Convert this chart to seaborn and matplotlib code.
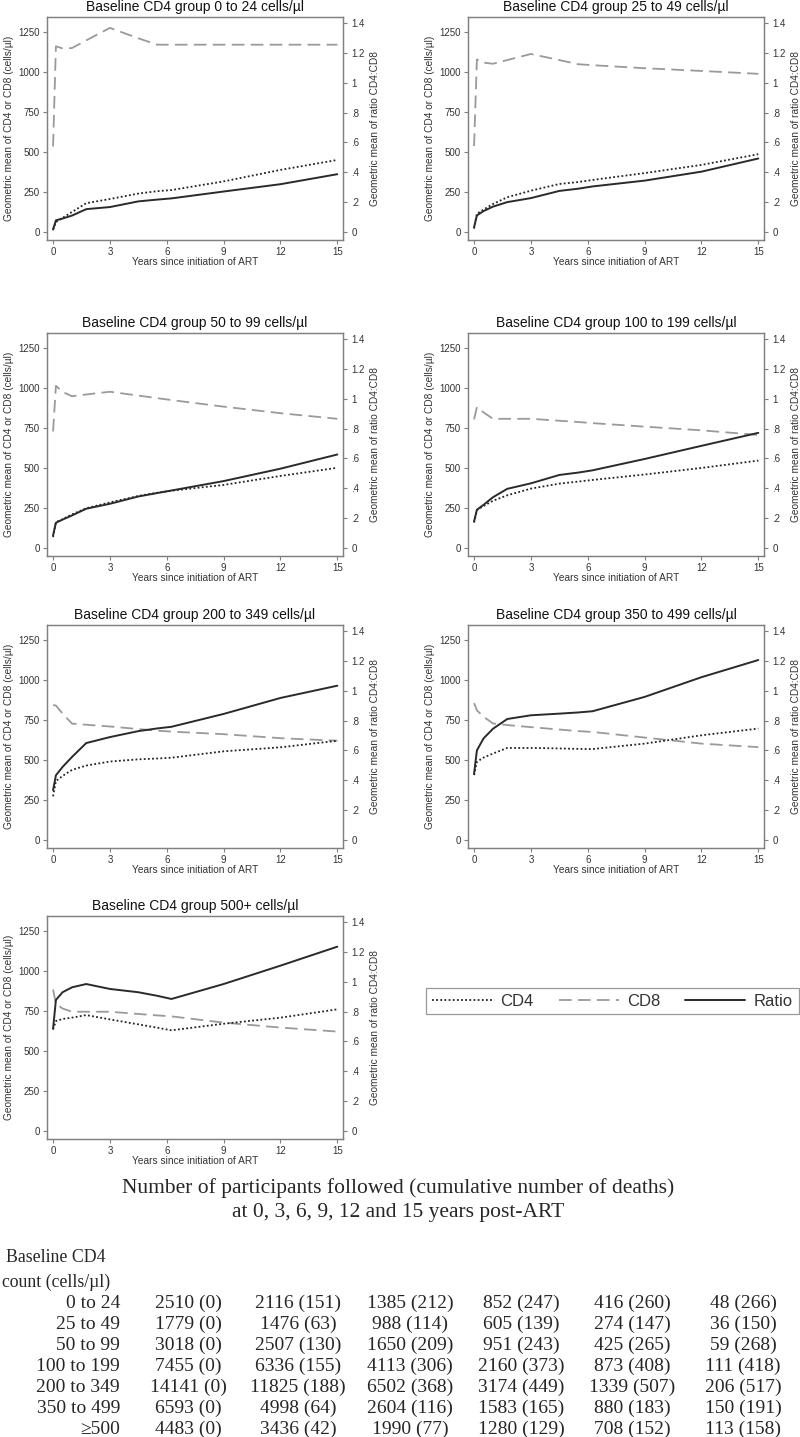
import matplotlib
matplotlib.use('Agg')
import matplotlib.pyplot as plt
from matplotlib.lines import Line2D
import seaborn as sns

# time points (years since ART start) shared by all curves
years = [0, 0.15, 0.5, 1, 1.75, 3, 4.5, 5.5, 6.25, 9, 12, 15]

group_titles = ['Baseline CD4 group 0 to 24 cells/µl',
                'Baseline CD4 group 25 to 49 cells/µl',
                'Baseline CD4 group 50 to 99 cells/µl',
                'Baseline CD4 group 100 to 199 cells/µl',
                'Baseline CD4 group 200 to 349 cells/µl',
                'Baseline CD4 group 350 to 499 cells/µl',
                'Baseline CD4 group 500+ cells/µl']

# geometric mean CD4 (cells/µl)
cd4_g1 = [15, 62, 88, 125, 180, 206, 240, 255, 262, 316, 388, 450]
cd4_g2 = [21, 114, 140, 175, 217, 258, 300, 312, 325, 368, 419, 486]
cd4_g3 = [68, 161, 180, 210, 248, 285, 325, 345, 358, 394, 450, 501]
cd4_g4 = [159, 237, 262, 295, 329, 371, 402, 415, 425, 459, 500, 546]
cd4_g5 = [273, 368, 400, 438, 465, 490, 504, 509, 514, 554, 579, 620]
cd4_g6 = [405, 488, 515, 540, 575, 575, 572, 569, 568, 602, 654, 696]
cd4_g7 = [635, 687, 700, 708, 724, 697, 666, 645, 629, 670, 708, 760]

# geometric mean CD8 (cells/µl)
cd8_g1 = [534, 1160, 1147, 1149, 1197, 1275, 1210, 1170, 1170, 1170, 1170, 1170]
cd8_g2 = [537, 1078, 1058, 1051, 1074, 1112, 1074, 1048, 1042, 1023, 1006, 988]
cd8_g3 = [728, 1013, 975, 948, 959, 976, 952, 936, 924, 883, 842, 807]
cd8_g4 = [803, 880, 847, 807, 807, 807, 795, 787, 780, 758, 735, 706]
cd8_g5 = [843, 840, 790, 727, 720, 709, 693, 683, 677, 661, 636, 620]
cd8_g6 = [855, 810, 770, 728, 718, 705, 690, 680, 675, 640, 602, 580]
cd8_g7 = [884, 795, 765, 745, 745, 745, 731, 722, 716, 677, 646, 621]

# geometric mean CD4:CD8 ratio
ratio_g1 = [0.016, 0.078, 0.09, 0.11, 0.153, 0.167, 0.205, 0.217, 0.225, 0.271, 0.320, 0.387]
ratio_g2 = [0.033, 0.111, 0.14, 0.17, 0.200, 0.227, 0.275, 0.290, 0.305, 0.344, 0.404, 0.492]
ratio_g3 = [0.085, 0.169, 0.19, 0.218, 0.263, 0.296, 0.345, 0.368, 0.385, 0.448, 0.531, 0.626]
ratio_g4 = [0.178, 0.256, 0.289, 0.34, 0.396, 0.433, 0.489, 0.505, 0.52, 0.596, 0.684, 0.771]
ratio_g5 = [0.333, 0.433, 0.489, 0.556, 0.649, 0.689, 0.729, 0.747, 0.758, 0.844, 0.951, 1.033]
ratio_g6 = [0.444, 0.60, 0.68, 0.745, 0.81, 0.835, 0.846, 0.854, 0.862, 0.958, 1.09, 1.205]
ratio_g7 = [0.684, 0.877, 0.929, 0.962, 0.984, 0.951, 0.929, 0.905, 0.884, 0.984, 1.107, 1.234]

cd4_all = [cd4_g1, cd4_g2, cd4_g3, cd4_g4, cd4_g5, cd4_g6, cd4_g7]
cd8_all = [cd8_g1, cd8_g2, cd8_g3, cd8_g4, cd8_g5, cd8_g6, cd8_g7]
ratio_all = [ratio_g1, ratio_g2, ratio_g3, ratio_g4, ratio_g5, ratio_g6, ratio_g7]

left_ticks = [0, 250, 500, 750, 1000, 1250]
right_ticks = [0, 0.2, 0.4, 0.6, 0.8, 1.0, 1.2, 1.4]
right_ticklabels = ['0', '.2', '.4', '.6', '.8', '1', '1.2', '1.4']
x_ticks = [0, 3, 6, 9, 12, 15]

# table under the plots
table_title = ['Number of participants followed (cumulative number of deaths)',
               'at 0, 3, 6, 9, 12 and 15 years post-ART']
table_rows = ['0 to 24', '25 to 49', '50 to 99', '100 to 199', '200 to 349', '350 to 499', '≥500']
n_y0 = [2510, 1779, 3018, 7455, 14141, 6593, 4483]
d_y0 = [0, 0, 0, 0, 0, 0, 0]
n_y3 = [2116, 1476, 2507, 6336, 11825, 4998, 3436]
d_y3 = [151, 63, 130, 155, 188, 64, 42]
n_y6 = [1385, 988, 1650, 4113, 6502, 2604, 1990]
d_y6 = [212, 114, 209, 306, 368, 116, 77]
n_y9 = [852, 605, 951, 2160, 3174, 1583, 1280]
d_y9 = [247, 139, 243, 373, 449, 165, 129]
n_y12 = [416, 274, 425, 873, 1339, 880, 708]
d_y12 = [260, 147, 265, 408, 507, 183, 152]
n_y15 = [48, 36, 59, 111, 206, 150, 113]
d_y15 = [266, 150, 268, 418, 517, 191, 158]

sns.set_theme(style='white')
plt.rcParams['font.family'] = ['Liberation Sans', 'DejaVu Sans']

W, H = 800, 1437
fig = plt.figure(figsize=(W / 100, H / 100), dpi=100)

frame_col = '#808080'
txt_col = '#333333'
cd4_style = dict(color='#222222', linestyle=(0, (1, 1.3)), linewidth=1.3)
cd8_style = dict(color='#9a9a9a', linestyle=(0, (7, 3.5)), linewidth=1.3)
ratio_style = dict(color='#2a2a2a', linestyle='-', linewidth=1.4)

col_left = [47, 468]
zero_rows = [232, 548, 840, 1131]
box_w, box_h = 296, 223

for i in range(7):
    r, c = divmod(i, 2)
    x0 = col_left[c]
    bottom = zero_rows[r] + 8
    ax = fig.add_axes([x0 / W, 1 - bottom / H, box_w / W, box_h / H])
    ax2 = ax.twinx()

    sns.lineplot(x=years, y=cd8_all[i], ax=ax, estimator=None, legend=False, **cd8_style)
    sns.lineplot(x=years, y=cd4_all[i], ax=ax, estimator=None, legend=False, **cd4_style)
    sns.lineplot(x=years, y=ratio_all[i], ax=ax2, estimator=None, legend=False, **ratio_style)

    ax.set_xlim(-0.32, 15.3)
    ax.set_ylim(-50, 1343)
    ax2.set_ylim(-50 / 933, 1343 / 933)
    ax.set_xticks(x_ticks)
    ax.set_yticks(left_ticks)
    ax2.set_yticks(right_ticks)
    ax2.set_yticklabels(right_ticklabels)

    for a in (ax, ax2):
        for s in a.spines.values():
            s.set_color(frame_col)
            s.set_linewidth(0.9)
        a.tick_params(direction='out', length=3, width=0.8, color=frame_col,
                      labelsize=7, labelcolor=txt_col, pad=2)
    ax.tick_params(axis='y', left=True)
    ax.tick_params(axis='x', bottom=True)
    ax2.tick_params(axis='y', right=True, pad=3)

    ax.set_xlabel('Years since initiation of ART', fontsize=7.3, color=txt_col, labelpad=0)
    ax.set_ylabel('Geometric mean of CD4 or CD8 (cells/µl)', fontsize=7.3, color=txt_col, labelpad=3.5)
    ax2.set_ylabel('Geometric mean of ratio CD4:CD8', fontsize=7.3, color=txt_col, labelpad=3.5)
    ax.set_title(group_titles[i], fontsize=10, pad=4, color='#111111')

handles = [Line2D([], [], **cd4_style), Line2D([], [], **cd8_style), Line2D([], [], **ratio_style)]
leg = fig.legend(handles, ['CD4', 'CD8', 'Ratio'], ncol=3, loc='center',
                 bbox_to_anchor=(612.5 / W, 1 - 1001 / H), frameon=True, fancybox=False,
                 edgecolor=frame_col, fontsize=12, handlelength=3.6, handletextpad=0.5,
                 columnspacing=1.5, borderpad=0.35, borderaxespad=0)
leg.get_frame().set_linewidth(0.9)
for t in leg.get_texts():
    t.set_color(txt_col)

serif = ['Liberation Serif', 'DejaVu Serif']
fs = 14
fig.text(398 / W, 1 - 1188 / H, table_title[0], ha='center', va='center', fontsize=15.5, family=serif)
fig.text(398 / W, 1 - 1212 / H, table_title[1], ha='center', va='center', fontsize=15.5, family=serif)
fig.text(56 / W, 1 - 1258 / H, 'Baseline CD4', ha='center', va='center', fontsize=12.8, family=serif)
fig.text(56 / W, 1 - 1282 / H, 'count (cells/µl)', ha='center', va='center', fontsize=12.8, family=serif)

col_x = [188, 298, 410, 521, 632, 743]
n_cols = [n_y0, n_y3, n_y6, n_y9, n_y12, n_y15]
d_cols = [d_y0, d_y3, d_y6, d_y9, d_y12, d_y15]
row_y0, row_dy = 1303, 21.1
for j, lab in enumerate(table_rows):
    y = 1 - (row_y0 + j * row_dy) / H
    fig.text(120 / W, y, lab, ha='right', va='center', fontsize=fs, family=serif)
    for k in range(6):
        fig.text(col_x[k] / W, y, f'{n_cols[k][j]} ({d_cols[k][j]})', ha='center', va='center',
                 fontsize=fs, family=serif)

fig.savefig('out.png', dpi=100)
